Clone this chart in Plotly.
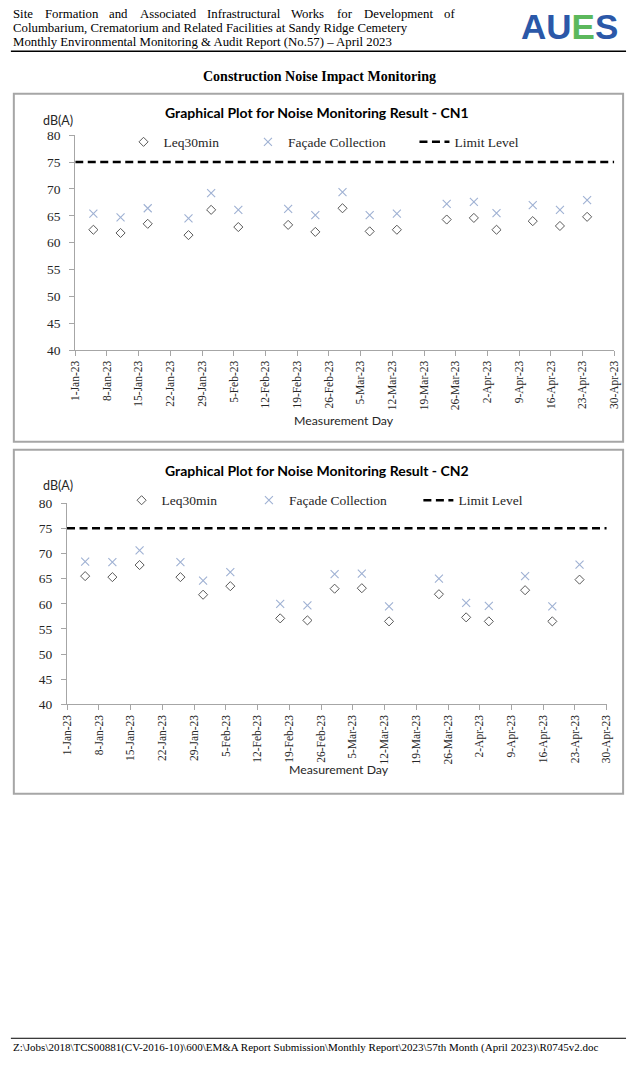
import plotly.graph_objects as go
import pandas as pd

# ---------------- data ----------------
dates = ["2023-01-05", "2023-01-11", "2023-01-17", "2023-01-26", "2023-01-31",
         "2023-02-06", "2023-02-17", "2023-02-23", "2023-03-01", "2023-03-07",
         "2023-03-13", "2023-03-24", "2023-03-30", "2023-04-04", "2023-04-12",
         "2023-04-18", "2023-04-24"]
cn1_leq = [62.4, 61.8, 63.5, 61.4, 66.1, 62.9, 63.3, 62.0, 66.4, 62.1,
           62.4, 64.3, 64.6, 62.4, 64.0, 63.1, 64.8]
cn1_facade = [65.4, 64.7, 66.4, 64.5, 69.2, 66.1, 66.3, 65.1, 69.4, 65.1,
              65.4, 67.2, 67.6, 65.5, 67.0, 66.1, 67.9]
cn2_leq = [65.5, 65.3, 67.7, 65.3, 61.8, 63.5, 57.1, 56.7, 63.0, 63.1,
           56.5, 61.9, 57.3, 56.5, 62.7, 56.5, 64.8]
cn2_facade = [68.4, 68.3, 70.6, 68.3, 64.6, 66.3, 60.0, 59.7, 65.9, 66.0,
              59.5, 65.0, 60.2, 59.6, 65.5, 59.5, 67.8]
limit_dates = ["2023-01-01", "2023-04-30"]
limit_level = [75, 75]
x_start, x_end = "2023-01-01", "2023-04-30"
y_min, y_max, y_step = 40, 80, 5

W, H = 635, 1065
def px(x):
    return x / W
def py(y):
    return 1 - y / H

SERIF = "Liberation Serif"
SANS = "Lato"
TXT = "#262626"

fig = go.Figure()

charts = [
    dict(name="CN1", leq=cn1_leq, fac=cn1_facade, xa="x", ya="y",
         xdom=(70.7, 621), ydom=(348, 130), legy=137, leg=("legend", "legend2", "legend3"),
         title_y=107, dba_y=115, md_y=419, md_x=345, box=(8, 88, 630, 441),
         legx=(142, 269, 439)),
    dict(name="CN2", leq=cn2_leq, fac=cn2_facade, xa="x2", ya="y2",
         xdom=(62.3, 613.3), ydom=(707.3, 503.3), legy=500.5, leg=("legend4", "legend5", "legend6"),
         title_y=470.5, dba_y=485, md_y=773, md_x=340, box=(8, 449, 630, 798),
         legx=(140, 270, 443)),
]

tickvals = pd.date_range(x_start, x_end, freq="7D")

for i, c in enumerate(charts):
    fig.add_trace(go.Scatter(
        x=dates, y=c["leq"], mode="markers", name="Leq30min",
        xaxis=c["xa"], yaxis=c["ya"], legend=c["leg"][0],
        marker=dict(symbol="diamond-open", size=7, color="#595959",
                    line=dict(width=1, color="#595959"))))
    fig.add_trace(go.Scatter(
        x=dates, y=c["fac"], mode="markers", name="Façade Collection",
        xaxis=c["xa"], yaxis=c["ya"], legend=c["leg"][1],
        marker=dict(symbol="x-thin-open", size=8, color="#9fb1d3",
                    line=dict(width=1.1, color="#9fb1d3"))))
    fig.add_trace(go.Scatter(
        x=limit_dates, y=limit_level, mode="lines", name="Limit Level",
        xaxis=c["xa"], yaxis=c["ya"], legend=c["leg"][2],
        line=dict(color="black", width=2.5, dash="8px,4.5px")))

    sfx = "" if i == 0 else "2"
    axis_common = dict(showgrid=False, zeroline=False, showline=True,
                       linecolor="#a6a6a6", linewidth=1, ticks="outside",
                       tickcolor="#a6a6a6", ticklen=5, tickwidth=1)
    fig.layout["xaxis" + sfx] = dict(
        axis_common, type="date", range=[x_start, x_end], tickvals=tickvals,
        tickformat="%-d-%b-%y", tickangle=-90,
        tickfont=dict(family=SERIF, size=11.5, color=TXT),
        domain=[px(c["xdom"][0]), px(c["xdom"][1])],
        anchor="y" + sfx)
    fig.layout["yaxis" + sfx] = dict(
        axis_common, range=[y_min, y_max], dtick=y_step, tick0=y_min,
        tickfont=dict(family=SERIF, size=13.5, color=TXT),
        ticklabelstandoff=6,
        domain=[py(c["ydom"][0]), py(c["ydom"][1])],
        anchor="x" + sfx)

    # legends, one entry each
    for k, lname in enumerate(c["leg"]):
        fig.layout[lname] = dict(
            x=px(c["legx"][k] - 22), xanchor="left", y=py(c["legy"]), yanchor="middle",
            orientation="h", bgcolor="rgba(0,0,0,0)", borderwidth=0,
            font=dict(family=SERIF, size=13.5, color=TXT), itemwidth=30)

    fig.add_annotation(text="<b>Graphical Plot for Noise Monitoring Result - %s</b>" % c["name"],
                       x=px(318), y=py(c["title_y"]), xref="paper", yref="paper",
                       showarrow=False, xanchor="center", yanchor="middle",
                       font=dict(family=SANS, size=14, color="black"))
    fig.add_annotation(text="dB(A)", x=px(53), y=py(c["dba_y"]), xref="paper", yref="paper",
                       showarrow=False, xanchor="center", yanchor="middle",
                       font=dict(family=SANS, size=12.5, color=TXT))
    fig.add_annotation(text="Measurement Day", x=px(c["md_x"]), y=py(c["md_y"]),
                       xref="paper", yref="paper", showarrow=False,
                       xanchor="center", yanchor="middle",
                       font=dict(family=SANS, size=12.3, color=TXT))
    x0, y0, x1, y1 = c["box"]
    fig.add_shape(type="rect", xref="paper", yref="paper",
                  x0=px(x0), x1=px(x1), y0=py(y0), y1=py(y1),
                  line=dict(color="#a6a6a6", width=2), fillcolor="rgba(0,0,0,0)")

# ---------------- page header ----------------
HDR = 12.8
line1_words = ["Site", "Formation", "and", "Associated", "Infrastructural",
               "Works", "for", "Development", "of"]
line1_x = [5, 37.45, 103.4, 134.45, 203.1, 288.95, 335.7, 363.25, 444.7]
for w, xx in zip(line1_words, line1_x):
    fig.add_annotation(text=w, x=px(xx), y=py(7.5), xref="paper", yref="paper",
                       showarrow=False, xanchor="left", yanchor="middle",
                       font=dict(family=SERIF, size=HDR, color="black"))
for txt, yy in [("Columbarium, Crematorium and Related Facilities at Sandy Ridge Cemetery", 21.5),
                ("Monthly Environmental Monitoring &amp; Audit Report (No.57) – April 2023", 36)]:
    fig.add_annotation(text=txt, x=px(5), y=py(yy), xref="paper", yref="paper",
                       showarrow=False, xanchor="left", yanchor="middle",
                       font=dict(family=SERIF, size=HDR, color="black"))
fig.add_annotation(text="<b><span style='color:#2b58a8'>AU</span><span style='color:#5cb85c'>E</span><span style='color:#2b58a8'>S</span></b>",
                   x=px(575.5), y=py(20), xref="paper", yref="paper", showarrow=False,
                   xanchor="center", yanchor="middle",
                   font=dict(family="Liberation Sans", size=35, color="#2b58a8"))
fig.add_shape(type="line", xref="paper", yref="paper", x0=px(5), x1=px(633),
              y0=py(45), y1=py(45), line=dict(color="black", width=1.5))
fig.add_annotation(text="<b>Construction Noise Impact Monitoring</b>", x=px(320), y=py(70),
                   xref="paper", yref="paper", showarrow=False, xanchor="center",
                   yanchor="middle", font=dict(family=SERIF, size=14, color="black"))

# ---------------- footer ----------------
fig.add_shape(type="line", xref="paper", yref="paper", x0=px(5), x1=px(633),
              y0=py(1046), y1=py(1046), line=dict(color="black", width=1))
fig.add_annotation(text="Z:\\Jobs\\2018\\TCS00881(CV-2016-10)\\600\\EM&amp;A Report Submission\\Monthly Report\\2023\\57th Month (April 2023)\\R0745v2.doc",
                   x=px(5), y=py(1055), xref="paper", yref="paper", showarrow=False,
                   xanchor="left", yanchor="middle",
                   font=dict(family=SERIF, size=11, color="black"))

fig.update_layout(width=W, height=H, margin=dict(l=0, r=0, t=0, b=0),
                  paper_bgcolor="white", plot_bgcolor="white", showlegend=True)

fig.write_html("out.html", config=dict(displayModeBar=False),
               post_script="document.body.style.margin='0';document.body.style.overflow='hidden';")
